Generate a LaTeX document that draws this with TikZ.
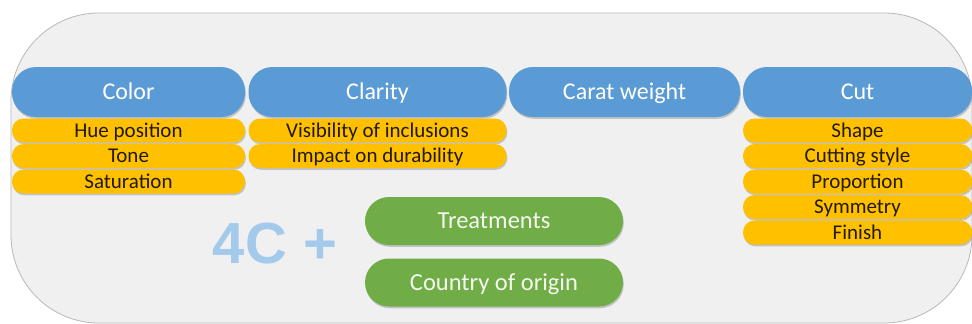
\documentclass[tikz,border=0pt]{standalone}
\usepackage{fontspec}
\setmainfont{Carlito}
\newfontfamily\arialbold{Liberation Sans}
\usetikzlibrary{shadows}
\definecolor{bgfill}{HTML}{F0F0F1}
\definecolor{bgline}{HTML}{B8B8B8}
\definecolor{hblue}{HTML}{5B9BD5}
\definecolor{hyellow}{HTML}{FFC000}
\definecolor{hgreen}{HTML}{70AD47}
\definecolor{ytext}{HTML}{221A02}
\definecolor{fourc}{HTML}{A3CAEB}
\tikzset{
  x=1pt, y=-1pt,
  pillshadow/.style={drop shadow={shadow xshift=0.8pt, shadow yshift=-1.8pt, opacity=0.28, fill=black!70}},
  bluebox/.style={fill=hblue, draw=none, rounded corners=24pt, minimum height=50pt, inner sep=0pt,
    text=white, font=\fontsize{24}{26}\selectfont, text height=15.5pt, text depth=0pt, pillshadow},
  yelbox/.style={fill=hyellow, draw=none, rounded corners=11.5pt, minimum height=24pt, inner sep=0pt,
    text=ytext, font=\fontsize{21}{22}\selectfont, text height=13.5pt, text depth=0pt, pillshadow},
  greenbox/.style={fill=hgreen, draw=none, rounded corners=24pt, minimum height=48pt, minimum width=258pt, inner sep=0pt,
    text=white!92!hgreen, font=\fontsize{24.5}{26}\selectfont, text height=15.8pt, text depth=0pt, pillshadow},
}
\begin{document}
\begin{tikzpicture}
\useasboundingbox (0,0) rectangle (972,324);
\fill[white] (0,0) rectangle (972,324);
\filldraw[fill=bgfill, draw=bgline, line width=0.8pt, rounded corners=88pt] (11,13) rectangle (972,323);
% blue headers
\node[bluebox, minimum width=233pt] (color) at (128.5,92) {Color};
\node[bluebox, minimum width=258pt] (clarity) at (377.5,92) {Clarity};
\node[bluebox, minimum width=231pt] (carat) at (624.5,92) {Carat weight};
\node[bluebox, minimum width=229pt] (cut) at (857.5,92) {Cut};
% color items
\node[yelbox, minimum width=233pt] (hue) at (128.5,130.5) {Hue position};
\node[yelbox, minimum width=233pt] (tone) at (128.5,156) {Tone};
\node[yelbox, minimum width=233pt] (sat) at (128.5,181.5) {Saturation};
% clarity items
\node[yelbox, minimum width=258pt] (vis) at (377.5,130.5) {Visibility of inclusions};
\node[yelbox, minimum width=258pt] (imp) at (377.5,156) {Impact on durability};
% cut items
\node[yelbox, minimum width=229pt] (shape) at (857.5,130.5) {Shape};
\node[yelbox, minimum width=229pt] (cstyle) at (857.5,156) {Cutting style};
\node[yelbox, minimum width=229pt] (prop) at (857.5,181.5) {Proportion};
\node[yelbox, minimum width=229pt] (sym) at (857.5,207) {Symmetry};
\node[yelbox, minimum width=229pt] (fin) at (857.5,232.5) {Finish};
% 4C +
\node[text=fourc, font=\arialbold\bfseries\fontsize{58}{60}\selectfont, inner sep=0pt] (fourc) at (275,244) {4C +};
% green
\node[greenbox] (treat) at (494,221) {Treatments};
\node[greenbox] (origin) at (494,282.5) {Country of origin};
\end{tikzpicture}
\end{document}
